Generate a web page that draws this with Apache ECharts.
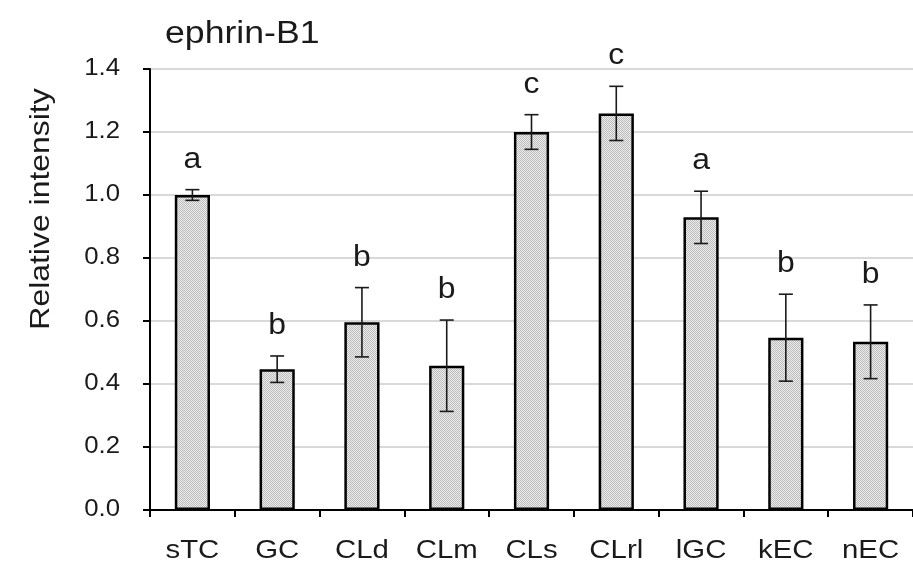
<!DOCTYPE html>
<html>
<head>
<meta charset="utf-8">
<script src="https://cdn.jsdelivr.net/npm/echarts@6/dist/echarts.min.js"></script>
<style>html,body{margin:0;padding:0;background:#fff}#c{width:913px;height:573px}</style>
</head>
<body>
<div id="c"></div>
<script>
const categories = ['sTC','GC','CLd','CLm','CLs','CLrl','lGC','kEC','nEC'];
const means = [1.0, 0.447, 0.596, 0.458, 1.2, 1.259, 0.929, 0.547, 0.534];
const errors = [0.017, 0.042, 0.11, 0.145, 0.055, 0.086, 0.083, 0.138, 0.117];
const letters = ['a','b','b','b','c','c','a','b','b'];
const yTicks = [0, 0.2, 0.4, 0.6, 0.8, 1.0, 1.2, 1.4];

const FONT = 'Arial, "Liberation Sans", sans-serif';
const INK = '#1a1a1a';

// fine dotted fill pattern
const pc = document.createElement('canvas');
pc.width = 2; pc.height = 2;
const px = pc.getContext('2d');
px.fillStyle = '#ececec'; px.fillRect(0,0,2,2);
px.fillStyle = '#bcbcbc'; px.fillRect(0,0,1,1); px.fillRect(1,1,1,1);

const chart = echarts.init(document.getElementById('c'), null, {renderer: 'canvas'});
chart.setOption({
  animation: false,
  backgroundColor: '#fff',
  graphic: [{
    type: 'text', x: 165, y: 34, scaleX: 1.15,
    style: {text: 'ephrin-B1', font: '31px ' + FONT, fill: INK, align: 'left', verticalAlign: 'middle'}
  }, {
    type: 'text', x: 41, y: 209, rotation: Math.PI / 2, scaleX: 1.14,
    style: {text: 'Relative intensity', font: '28px ' + FONT, fill: INK, align: 'center', verticalAlign: 'middle'}
  }],
  grid: {left: 150, top: 69, bottom: 63, right: -8},
  xAxis: {
    type: 'category', data: categories, boundaryGap: true,
    axisLine: {lineStyle: {color: '#000', width: 2}},
    axisTick: {show: true, length: 7, lineStyle: {color: '#000', width: 2}},
    axisLabel: {show: false}
  },
  yAxis: {
    type: 'value', min: 0, max: 1.4, interval: 0.2,
    axisLine: {show: true, lineStyle: {color: '#000', width: 2}},
    axisTick: {show: true, length: 7, lineStyle: {color: '#000', width: 2}},
    splitLine: {lineStyle: {color: '#d9d9d9', width: 2}},
    axisLabel: {show: false}
  },
  series: [{
    type: 'bar', data: means, barWidth: '41.5%',
    itemStyle: {color: {image: pc, repeat: 'repeat'}, borderColor: '#000', borderWidth: 2.5},
    z: 2
  }, {
    type: 'custom',
    data: categories.map((c, i) => [i, means[i], errors[i]]),
    z: 5,
    renderItem: function (params, api) {
      const i = api.value(0);
      const m = api.value(1), e = api.value(2);
      const top = api.coord([i, m + e]);
      const bot = api.coord([i, m - e]);
      const base = api.coord([i, 0]);
      const hw = 7;
      const st = {stroke: INK, lineWidth: 1.6};
      return {
        type: 'group',
        children: [
          {type: 'line', shape: {x1: top[0], y1: top[1], x2: bot[0], y2: bot[1]}, style: st},
          {type: 'line', shape: {x1: top[0]-hw, y1: top[1], x2: top[0]+hw, y2: top[1]}, style: st},
          {type: 'line', shape: {x1: bot[0]-hw, y1: bot[1], x2: bot[0]+hw, y2: bot[1]}, style: st},
          {type: 'text', x: top[0], y: top[1] - 30, scaleX: 1.1,
           style: {text: letters[i], font: '29px ' + FONT, fill: INK, align: 'center', verticalAlign: 'middle'}},
          {type: 'text', x: base[0], y: base[1] + 41, scaleX: 1.13,
           style: {text: categories[i], font: '26px ' + FONT, fill: INK, align: 'center', verticalAlign: 'middle'}}
        ]
      };
    }
  }, {
    type: 'custom',
    data: yTicks.map(v => [0, v]),
    z: 5,
    renderItem: function (params, api) {
      const v = api.value(1);
      const p = api.coord([0, v]);
      return {
        type: 'text', x: params.coordSys.x - 30, y: p[1], scaleX: 1.12,
        style: {text: v.toFixed(1), font: '23px ' + FONT, fill: INK, align: 'right', verticalAlign: 'middle'}
      };
    }
  }]
});
</script>
</body>
</html>
